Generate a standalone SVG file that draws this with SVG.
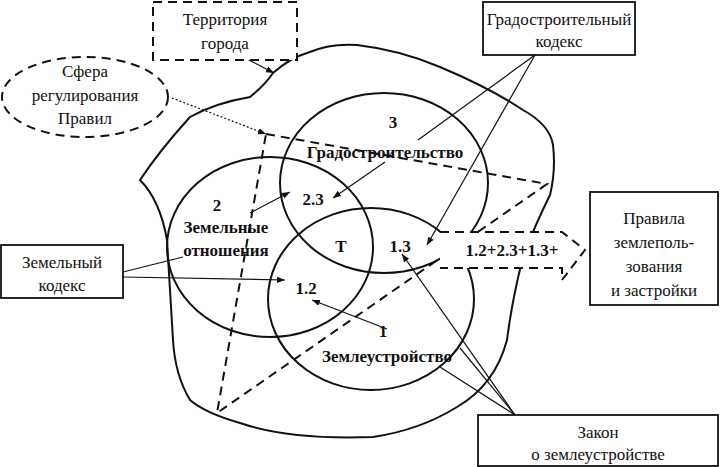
<svg xmlns="http://www.w3.org/2000/svg" width="720" height="467" viewBox="0 0 720 467">
<defs>
<marker id="ah" viewBox="0 0 10 10" refX="10" refY="5" markerWidth="8" markerHeight="8" orient="auto" markerUnits="userSpaceOnUse"><path d="M0,1 L10,5 L0,9 Z" fill="#111"/></marker>
<style>
text{font-family:'Liberation Serif','Times New Roman','DejaVu Serif',serif;font-size:17px;fill:#111;text-anchor:middle}
.b{font-weight:bold}
.c{fill:none;stroke:#111;stroke-width:2}
.d{fill:#fff;stroke:#111;stroke-width:2;stroke-dasharray:9 6}
.box{fill:#fff;stroke:#111;stroke-width:1.8}
.l{stroke:#111;stroke-width:1.2;fill:none}
</style>
</defs>
<rect width="720" height="467" fill="#fff"/>
<g id="territory-shape">
<path class="c" stroke-width="3" d="M250,97 Q265,85 273,73 Q290,58 307,53 Q330,43 357,45 Q400,50 440,67 Q490,88 523,110 Q550,125 553,145 Q556,170 550,195 Q535,225 523,257 Q512,300 507,340 Q495,385 457,407 Q420,430 373,437 Q290,440 240,423 Q205,413 190,400 Q175,375 173,340 Q170,290 167,240 Q160,200 140,180 Q160,150 190,117 Q215,103 250,97 Z"/>
</g>
<g id="triangle"><path d="M266,134 L547,184 L217,413 Z" fill="none" stroke="#111" stroke-width="2" stroke-dasharray="9 6"/></g>
<g id="circles">
<ellipse class="c" cx="384" cy="183" rx="104" ry="90"/>
<ellipse class="c" cx="270" cy="247" rx="103" ry="90"/>
<ellipse class="c" cx="371" cy="299" rx="103" ry="91"/>
</g>
<g id="result-arrow"><path d="M440,232 L562,232 L585,250 L562,280 L562,268 L440,268" fill="#fff" stroke="#111" stroke-width="2" stroke-dasharray="9 6"/>
<text class="b" x="512" y="256" font-size="18">1.2+2.3+1.3+</text></g>
<g id="labels">
<text class="b" x="393" y="128" font-size="18">3</text>
<text class="b" x="385" y="158">Градостроительство</text>
<text class="b" x="313" y="205" font-size="18">2.3</text>
<text class="b" x="217" y="211" font-size="18">2</text>
<text class="b" x="226" y="233">Земельные</text>
<text class="b" x="226" y="256">отношения</text>
<text class="b" x="341" y="252" font-size="18">T</text>
<text class="b" x="400" y="252" font-size="18">1.3</text>
<text class="b" x="306" y="294" font-size="18">1.2</text>
<text class="b" x="383" y="337" font-size="18">1</text>
<text class="b" x="387" y="362">Землеустройство</text>
</g>
<g id="connectors">
<line class="l" x1="245" y1="58" x2="274" y2="73" marker-end="url(#ah)"/>
<line class="l" x1="172" y1="98" x2="266" y2="134" stroke-dasharray="2 2" marker-end="url(#ah)"/>
<line class="l" x1="535" y1="55" x2="418" y2="140"/>
<line class="l" x1="535" y1="55" x2="427" y2="245" marker-end="url(#ah)"/>
<line class="l" x1="123" y1="272" x2="183" y2="257"/>
<line class="l" x1="123" y1="277" x2="285" y2="280" marker-end="url(#ah)"/>
<line class="l" x1="250" y1="213" x2="290" y2="192" marker-end="url(#ah)"/>
<line class="l" x1="385" y1="162" x2="333" y2="198" stroke="#666" marker-end="url(#ah)"/>
<line class="l" x1="387" y1="329" x2="312" y2="300" marker-end="url(#ah)"/>
<line class="l" x1="515" y1="415" x2="402" y2="254" marker-end="url(#ah)"/>
<line class="l" x1="515" y1="415" x2="460" y2="348"/>
<line class="l" x1="515" y1="415" x2="440" y2="367"/>
</g>
<g id="territory-box"><rect class="d" x="153" y="2" width="144" height="58"/>
<text x="225" y="25">Территория</text><text x="225" y="49">города</text></g>
<g id="sphere"><ellipse class="d" cx="85" cy="97" rx="83" ry="40"/>
<text x="85" y="77">Сфера</text><text x="85" y="101">регулирования</text><text x="85" y="124">Правил</text></g>
<g id="grad-code"><rect class="box" x="483" y="2" width="152" height="53"/>
<text x="559" y="25" font-size="16">Градостроительный</text><text x="559" y="47">кодекс</text></g>
<g id="land-code"><rect class="box" x="1" y="245" width="122" height="53"/>
<text x="62" y="268">Земельный</text><text x="62" y="291">кодекс</text></g>
<g id="rules"><rect class="box" x="590" y="192" width="128" height="113"/>
<text x="654" y="224">Правила</text><text x="654" y="248">землеполь-</text><text x="654" y="272">зования</text><text x="654" y="296">и застройки</text></g>
<g id="law"><rect class="box" x="478" y="415" width="240" height="51"/>
<text x="598" y="438">Закон</text><text x="598" y="460">о землеустройстве</text></g>
</svg>
